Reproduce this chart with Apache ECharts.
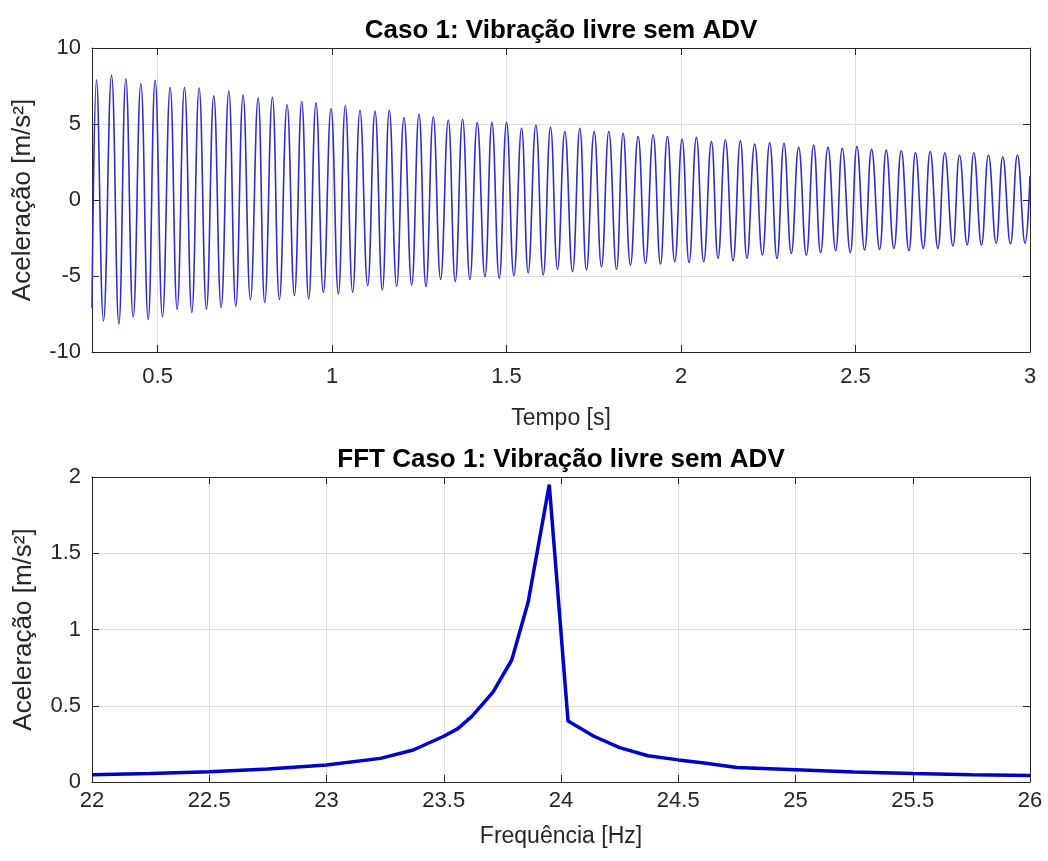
<!DOCTYPE html>
<html><head><meta charset="utf-8">
<script src="https://cdn.jsdelivr.net/npm/echarts@6/dist/echarts.min.js"></script>
<style>html,body{margin:0;padding:0;background:#fff}#c{width:1048px;height:861px}</style>
</head><body><div id="c"></div>
<script>
// Time signal: successive extremes (start, peak, trough, peak, ... , end)
const timeS = [0.312,
 0.325,0.345, 0.368,0.389, 0.409,0.430, 0.452,0.473, 0.493,0.514, 0.536,0.556, 0.577,0.598, 0.619,0.640,
 0.661,0.682, 0.704,0.724, 0.745,0.766, 0.788,0.807, 0.829,0.849, 0.871,0.892, 0.913,0.933, 0.954,0.975,
 0.997,1.018, 1.038,1.059, 1.080,1.102, 1.123,1.144, 1.164,1.185, 1.206,1.228, 1.249,1.269, 1.290,1.311,
 1.333,1.353, 1.374,1.395, 1.416,1.438, 1.458,1.479, 1.500,1.521, 1.543,1.562, 1.584,1.605, 1.626,1.646,
 1.667,1.689, 1.710,1.729, 1.751,1.772, 1.793,1.815, 1.834,1.855, 1.877,1.898, 1.920,1.941, 1.961,1.982,
 2.003,2.023, 2.044,2.065, 2.087,2.106, 2.127,2.149, 2.170,2.189, 2.211,2.233, 2.254,2.275, 2.295,2.316,
 2.337,2.359, 2.380,2.400, 2.421,2.443, 2.462,2.485, 2.504,2.526, 2.546,2.569, 2.588,2.610, 2.631,2.653,
 2.672,2.694, 2.714,2.736, 2.756,2.779, 2.798,2.820, 2.839,2.861, 2.881,2.903, 2.922,2.944, 2.964,2.986,
 3.000];
const accel = [-7.1,
 7.9,-7.95, 8.2,-8.16, 7.98,-7.7, 7.65,-7.87, 7.88,-7.68, 7.4,-7.2, 7.4,-7.4, 7.37,-7.18,
 6.85,-7.07, 7.17,-6.98, 6.9,-6.56, 6.7,-6.75, 6.76,-6.55, 6.27,-6.28, 6.47,-6.52, 6.39,-6.08,
 6.02,-6.18, 6.2,-6.07, 5.9,-5.64, 5.85,-5.92, 5.9,-5.67, 5.42,-5.59, 5.66,-5.7, 5.48,-5.22,
 5.26,-5.37, 5.31,-5.22, 5.09,-5.04, 5.11,-5.15, 5.11,-4.98, 4.71,-4.78, 4.93,-4.93, 4.78,-4.56,
 4.5,-4.71, 4.71,-4.61, 4.5,-4.39, 4.5,-4.56, 4.39,-4.28, 4.17,-4.17, 4.28,-4.21, 4.17,-4.06,
 3.99,-4.12, 4.12,-4.06, 3.84,-3.84, 3.95,-3.99, 3.9,-3.84, 3.68,-3.62, 3.77,-3.84, 3.73,-3.51,
 3.46,-3.62, 3.62,-3.46, 3.46,-3.33, 3.4,-3.46, 3.51,-3.29, 3.33,-3.25, 3.29,-3.18, 3.24,-3.33,
 3.11,-3.18, 3.18,-3.18, 3.11,-3.03, 2.96,-2.96, 3.11,-2.96, 2.96,-2.85, 2.85,-2.89, 2.96,-2.85,
 1.6];

// FFT spectrum
const fftFreq = [22.0, 22.25, 22.5, 22.75, 23.0, 23.23, 23.37, 23.5, 23.56, 23.62, 23.71, 23.79, 23.86, 23.95,
                 24.03, 24.14, 24.25, 24.37, 24.5, 24.61, 24.75, 25.0, 25.25, 25.5, 25.75, 26.0];
const fftAmp  = [0.048, 0.055, 0.068, 0.085, 0.112, 0.155, 0.21, 0.3, 0.35, 0.43, 0.59, 0.8, 1.18, 1.95,
                 0.4, 0.3, 0.225, 0.172, 0.145, 0.125, 0.095, 0.08, 0.065, 0.055, 0.048, 0.042];

const titles = ['Caso 1: Vibração livre sem ADV', 'FFT Caso 1: Vibração livre sem ADV'];
const xNames = ['Tempo [s]', 'Frequência [Hz]'];
const yName = 'Aceleração [m/s²]';

const FONT = '"Liberation Sans", Arial, Helvetica, sans-serif';
const AX = '#262626';
const GRIDC = '#dedede';
const TICKFS = 22, XNAMEFS = 23, YNAMEFS = 26, TITLEFS = 26;

function mainX(grid, min, max, extra) {
  return Object.assign({
    type: 'value', gridIndex: grid, min: min, max: max, position: 'bottom',
    nameLocation: 'middle', nameTextStyle: {fontSize: XNAMEFS, color: AX, fontFamily: FONT},
    axisLine: {show: true, onZero: false, lineStyle: {color: AX, width: 1}},
    axisTick: {show: true, inside: true, length: 7, lineStyle: {color: AX}},
    axisLabel: {fontSize: TICKFS, color: AX, fontFamily: FONT},
    splitLine: {show: true, lineStyle: {color: GRIDC, width: 1}}
  }, extra);
}
function boxX(grid, min, max, extra) {
  return Object.assign({
    type: 'value', gridIndex: grid, min: min, max: max, position: 'top',
    axisLine: {show: true, onZero: false, lineStyle: {color: AX, width: 1}},
    axisTick: {show: true, inside: true, length: 7, lineStyle: {color: AX}},
    axisLabel: {show: false}, splitLine: {show: false}
  }, extra);
}
function mainY(grid, min, max, interval, gap) {
  return {
    type: 'value', gridIndex: grid, min: min, max: max, interval: interval, position: 'left',
    name: yName, nameLocation: 'middle', nameGap: gap,
    nameTextStyle: {fontSize: YNAMEFS, color: AX, fontFamily: FONT},
    axisLine: {show: true, onZero: false, lineStyle: {color: AX, width: 1}},
    axisTick: {show: true, inside: true, length: 7, lineStyle: {color: AX}},
    axisLabel: {fontSize: TICKFS, color: AX, fontFamily: FONT, margin: 11},
    splitLine: {show: true, lineStyle: {color: GRIDC, width: 1}}
  };
}
function boxY(grid, min, max, interval) {
  return {
    type: 'value', gridIndex: grid, min: min, max: max, interval: interval, position: 'right',
    axisLine: {show: true, onZero: false, lineStyle: {color: AX, width: 1}},
    axisTick: {show: true, inside: true, length: 7, lineStyle: {color: AX}},
    axisLabel: {show: false}, splitLine: {show: false}
  };
}
const halfFmt = v => (Math.abs(v * 2 - Math.round(v * 2)) < 1e-6 ? String(Math.round(v * 2) / 2) : '');

const chart = echarts.init(document.getElementById('c'), null, {renderer: 'canvas'});
chart.setOption({
  animation: false,
  backgroundColor: '#ffffff',
  grid: [
    {left: 92, top: 48, width: 938, height: 304, containLabel: false, outerBoundsMode: 'none'},
    {left: 92, top: 477, width: 938, height: 305, containLabel: false, outerBoundsMode: 'none'}
  ],
  xAxis: [
    mainX(0, 0.312, 3, {splitNumber: 6, name: xNames[0], nameGap: 55,
      axisLabel: {fontSize: TICKFS, color: AX, fontFamily: FONT, margin: 14, formatter: halfFmt}}),
    boxX(0, 0.312, 3, {splitNumber: 6}),
    mainX(1, 22, 26, {interval: 0.5, name: xNames[1], nameGap: 43,
      axisLabel: {fontSize: TICKFS, color: AX, fontFamily: FONT, margin: 8}}),
    boxX(1, 22, 26, {interval: 0.5})
  ],
  yAxis: [
    mainY(0, -10, 10, 5, 56),
    boxY(0, -10, 10, 5),
    mainY(1, 0, 2, 0.5, 55),
    boxY(1, 0, 2, 0.5)
  ],
  graphic: [
    {type: 'text', x: 561, y: 31, style: {text: titles[0], font: 'bold ' + TITLEFS + 'px ' + FONT, fill: '#000', align: 'center', verticalAlign: 'middle'}},
    {type: 'text', x: 561, y: 460, style: {text: titles[1], font: 'bold ' + TITLEFS + 'px ' + FONT, fill: '#000', align: 'center', verticalAlign: 'middle'}}
  ],
  series: [
    {type: 'line', xAxisIndex: 0, yAxisIndex: 0, data: timeS.map((t, i) => [t, accel[i]]),
     smooth: 0.45, symbol: 'none', clip: true, lineStyle: {color: '#2d2dd0', width: 1.6}},
    {type: 'line', xAxisIndex: 2, yAxisIndex: 2, data: fftFreq.map((f, i) => [f, fftAmp[i]]),
     smooth: false, symbol: 'none', clip: true, lineStyle: {color: '#0000cc', width: 3.5}}
  ]
});
</script></body></html>
